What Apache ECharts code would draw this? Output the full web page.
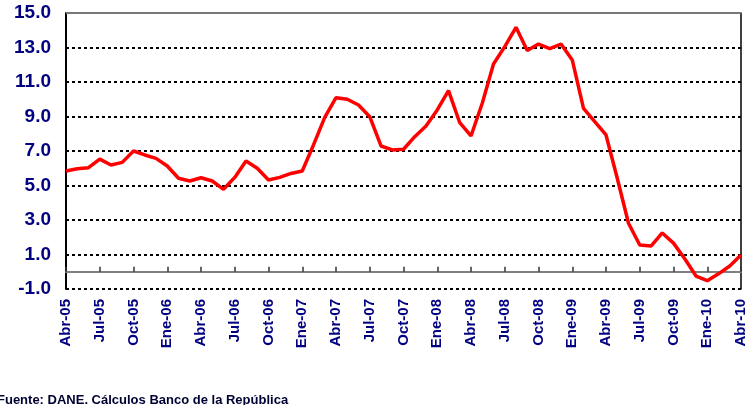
<!DOCTYPE html>
<html>
<head>
<meta charset="utf-8">
<script src="https://cdn.jsdelivr.net/npm/echarts@6/dist/echarts.min.js"></script>
<style>
  html, body { margin: 0; padding: 0; background: #fff; }
  #chart { width: 751px; height: 405px; }
</style>
</head>
<body>
<div id="chart"></div>
<script>
'use strict';

// months Abr-05 .. Abr-10
const months = [
  'Abr-05', 'May-05', 'Jun-05', 'Jul-05', 'Ago-05', 'Sep-05', 'Oct-05', 'Nov-05', 'Dic-05',
  'Ene-06', 'Feb-06', 'Mar-06', 'Abr-06', 'May-06', 'Jun-06', 'Jul-06', 'Ago-06', 'Sep-06', 'Oct-06', 'Nov-06', 'Dic-06',
  'Ene-07', 'Feb-07', 'Mar-07', 'Abr-07', 'May-07', 'Jun-07', 'Jul-07', 'Ago-07', 'Sep-07', 'Oct-07', 'Nov-07', 'Dic-07',
  'Ene-08', 'Feb-08', 'Mar-08', 'Abr-08', 'May-08', 'Jun-08', 'Jul-08', 'Ago-08', 'Sep-08', 'Oct-08', 'Nov-08', 'Dic-08',
  'Ene-09', 'Feb-09', 'Mar-09', 'Abr-09', 'May-09', 'Jun-09', 'Jul-09', 'Ago-09', 'Sep-09', 'Oct-09', 'Nov-09', 'Dic-09',
  'Ene-10', 'Feb-10', 'Mar-10', 'Abr-10'
];

const values = [
  5.84, 5.97, 6.03, 6.53, 6.19, 6.34, 7.00, 6.77, 6.57,
  6.13, 5.42, 5.26, 5.45, 5.26, 4.78, 5.47, 6.42, 6.00, 5.32, 5.47, 5.70,
  5.84, 7.35, 8.95, 10.09, 10.00, 9.67, 8.99, 7.29, 7.06, 7.10, 7.83, 8.45,
  9.38, 10.50, 8.64, 7.87, 9.77, 12.04, 13.05, 14.17, 12.82, 13.20, 12.93, 13.20,
  12.28, 9.47, 8.70, 7.93, 5.42, 2.81, 1.55, 1.49, 2.25, 1.66, 0.75, -0.25,
  -0.52, -0.12, 0.33, 0.97
];

const Y_MIN = -1;
const Y_MAX = 15;
const Y_STEP = 2;
const NAVY = '#000080';
const FONT = 'Liberation Sans, Arial, sans-serif';

const chart = echarts.init(document.getElementById('chart'));

const options = {
  animation: false,
  grid: { left: 66, right: 10, top: 13, bottom: 116 },
  xAxis: [
    {
      type: 'category',
      data: months,
      boundaryGap: false,
      position: 'bottom',
      axisLine: { show: false, onZero: false },
      axisTick: { show: false },
      axisLabel: {
        interval: 2,
        rotate: 90,
        margin: 10,
        color: NAVY,
        fontFamily: FONT,
        fontWeight: 'bold',
        fontSize: 15
      },
      splitLine: { show: false }
    },
    {
      // zero line with the month ticks
      type: 'category',
      data: months,
      boundaryGap: false,
      position: 'top',
      axisLine: { show: true, onZero: true, lineStyle: { color: '#808080', width: 2 } },
      axisTick: { show: true, interval: 2, length: 5, lineStyle: { color: '#333', width: 1.5 } },
      axisLabel: { show: false },
      splitLine: { show: false }
    }
  ],
  yAxis: [
    {
      type: 'value',
      min: Y_MIN,
      max: Y_MAX,
      interval: Y_STEP,
      axisLine: { show: true, lineStyle: { color: '#000', width: 2 } },
      axisTick: { show: false },
      axisLabel: {
        margin: 15,
        color: NAVY,
        fontFamily: FONT,
        fontWeight: 'bold',
        fontSize: 19,
        formatter: v => v.toFixed(1)
      },
      splitLine: { show: true, lineStyle: { color: '#000', width: 2, type: [3, 3] } }
    },
    {
      // right border
      type: 'value',
      position: 'right',
      min: Y_MIN,
      max: Y_MAX,
      interval: Y_STEP,
      axisLine: { show: true, lineStyle: { color: '#000', width: 1.5 } },
      axisTick: { show: false },
      axisLabel: { show: false },
      splitLine: { show: false }
    }
  ],
  series: [
    {
      type: 'line',
      data: values,
      xAxisIndex: 0,
      yAxisIndex: 0,
      showSymbol: false,
      symbol: 'none',
      lineStyle: { color: '#ff0000', width: 3.5 },
      z: 5,
      markLine: {
        silent: true,
        symbol: ['none', 'none'],
        label: { show: false },
        lineStyle: { color: '#777', width: 2, type: 'solid' },
        data: [{ yAxis: Y_MAX }],
        z: 1
      }
    }
  ],
  graphic: [
    {
      type: 'text',
      left: -3,
      top: 394,
      style: {
        text: 'Fuente: DANE. Cálculos Banco de la República',
        fill: '#000033',
        font: 'bold 13px ' + FONT
      }
    }
  ]
};

chart.setOption(options);
</script>
</body>
</html>
